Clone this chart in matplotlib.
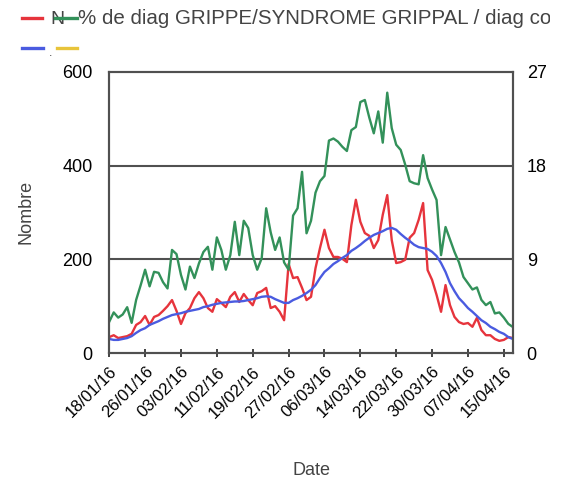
import numpy as np
import pandas as pd
import matplotlib
matplotlib.use("Agg")
import matplotlib.pyplot as plt
from matplotlib.lines import Line2D
from matplotlib.transforms import Bbox

plt.rcParams['font.family'] = ['Liberation Sans', 'DejaVu Sans']

# daily series, 18/01/16 -> 17/04/16
dates = pd.date_range('2016-01-18', periods=91, freq='D')

# number of flu diagnoses (left axis)
nombre = [34, 38, 32, 34, 36, 41, 60, 66, 79, 60,
          77, 81, 90, 100, 113, 90, 62, 85, 96, 117,
          130, 117, 96, 88, 115, 107, 98, 120, 130, 109,
          126, 113, 102, 128, 132, 139, 96, 100, 88, 70,
          190, 160, 162, 139, 113, 120, 181, 224, 263, 224,
          205, 205, 201, 194, 273, 327, 280, 256, 250, 224,
          241, 295, 337, 241, 192, 194, 199, 246, 256, 284,
          320, 177, 156, 124, 88, 145, 102, 77, 66, 62,
          64, 56, 75, 49, 38, 38, 30, 26, 28, 34,
          32]

# moving average of the above (left axis)
moyenne = [30, 28, 28, 30, 32, 36, 43, 49, 53, 60,
           64, 68, 73, 77, 81, 83, 85, 88, 90, 92,
           94, 98, 100, 103, 105, 107, 108, 109, 110, 110,
           111, 113, 115, 117, 120, 121, 120, 115, 111, 107,
           107, 113, 117, 122, 128, 135, 145, 160, 173, 181,
           190, 196, 203, 209, 218, 224, 231, 239, 246, 252,
           256, 260, 265, 267, 263, 254, 246, 239, 231, 226,
           224, 222, 216, 207, 192, 173, 149, 132, 117, 107,
           96, 88, 79, 70, 64, 56, 51, 45, 41, 34,
           30]

# share of flu diagnoses among coded diagnoses, % (right axis)
pourcentage = [3.0, 3.9, 3.4, 3.7, 4.4, 2.9, 5.1, 6.5, 8.0, 6.4,
               7.8, 7.7, 6.8, 6.2, 9.9, 9.5, 7.5, 6.1, 8.3, 7.2,
               8.6, 9.7, 10.2, 8.0, 11.1, 9.9, 8.0, 9.4, 12.6, 9.4,
               12.7, 12.0, 9.4, 8.0, 9.1, 13.9, 11.6, 9.9, 11.1, 8.7,
               8.0, 13.2, 13.9, 17.4, 11.5, 12.7, 15.4, 16.5, 17.0, 20.4,
               20.6, 20.3, 19.8, 19.4, 21.4, 21.7, 24.1, 24.3, 22.6, 21.1,
               23.2, 20.2, 25.0, 21.6, 20.0, 19.5, 18.1, 16.5, 16.3, 16.2,
               19.0, 16.8, 15.7, 14.7, 9.4, 12.1, 10.9, 9.7, 8.7, 7.3,
               6.7, 6.1, 6.3, 5.1, 4.6, 4.9, 3.8, 3.9, 3.4, 2.8,
               2.5]

left_ticks = [0, 200, 400, 600]
right_ticks = [0, 9, 18, 27]
tick_dates = dates[::8]

RED = '#e6343c'
GREEN = '#33915a'
BLUE = '#4a5be0'
YELLOW = '#e8c43a'
FRAME = '#505050'

fig = plt.figure(figsize=(5.66, 4.79), dpi=100)
ax = fig.add_axes([0.193, 0.263, 0.713, 0.587])
ax2 = ax.twinx()

ax.plot(dates, nombre, color=RED, lw=1.7, zorder=3)
ax.plot(dates, moyenne, color=BLUE, lw=1.7, zorder=4)
ax2.plot(dates, pourcentage, color=GREEN, lw=1.7)

ax.set_xlim(dates[0], dates[-1])
ax.set_ylim(0, 600)
ax2.set_ylim(0, 27)
ax.set_yticks(left_ticks)
ax2.set_yticks(right_ticks)
ax.set_xticks(tick_dates)
ax.set_xticklabels([d.strftime('%d/%m/%y') for d in tick_dates],
                   rotation=45, ha='right', rotation_mode='anchor')

for y in left_ticks[1:-1]:
    ax.axhline(y, color=FRAME, lw=1.5, zorder=1)

for a in (ax, ax2):
    for s in a.spines.values():
        s.set_color(FRAME)
        s.set_linewidth(1.5)
ax.tick_params(axis='x', direction='inout', length=6, width=1.2, color='#222222',
               labelsize=12, pad=5)
ax.tick_params(axis='y', length=0, labelsize=13, pad=12)
ax2.tick_params(axis='y', length=0, labelsize=13, pad=10)

ax.set_ylabel('Nombre', fontsize=13, color='#444444', labelpad=20)
ax.set_xlabel('Date', fontsize=13, color='#444444', labelpad=30)

# legend drawn in figure pixels
W, H = fig.bbox.width, fig.bbox.height
def px(x, y):
    return x / W, 1 - y / H

def handle(x0, x1, y, color):
    (a0, b0), (a1, b1) = px(x0, y), px(x1, y)
    fig.add_artist(Line2D([a0, a1], [b0, b1], color=color, lw=2.4,
                          transform=fig.transFigure, zorder=5))

handle(22, 42, 18, RED)
fig.text(*px(50, 19), 'N', fontsize=14, color='#444444', va='center', zorder=3)
handle(55, 77, 18, GREEN)
t = fig.text(*px(78, 19), '% de diag GRIPPE/SYNDROME GRIPPAL / diag codés',
             fontsize=14.8, color='#444444', va='center')
t.set_clip_box(Bbox.from_extents(0, 0, 550, H))
handle(22, 43, 48, BLUE)
fig.text(*px(49, 53), '.', fontsize=9, color='#444444', va='center')
handle(57, 77, 48, YELLOW)

fig.savefig('out.png', dpi=100)
